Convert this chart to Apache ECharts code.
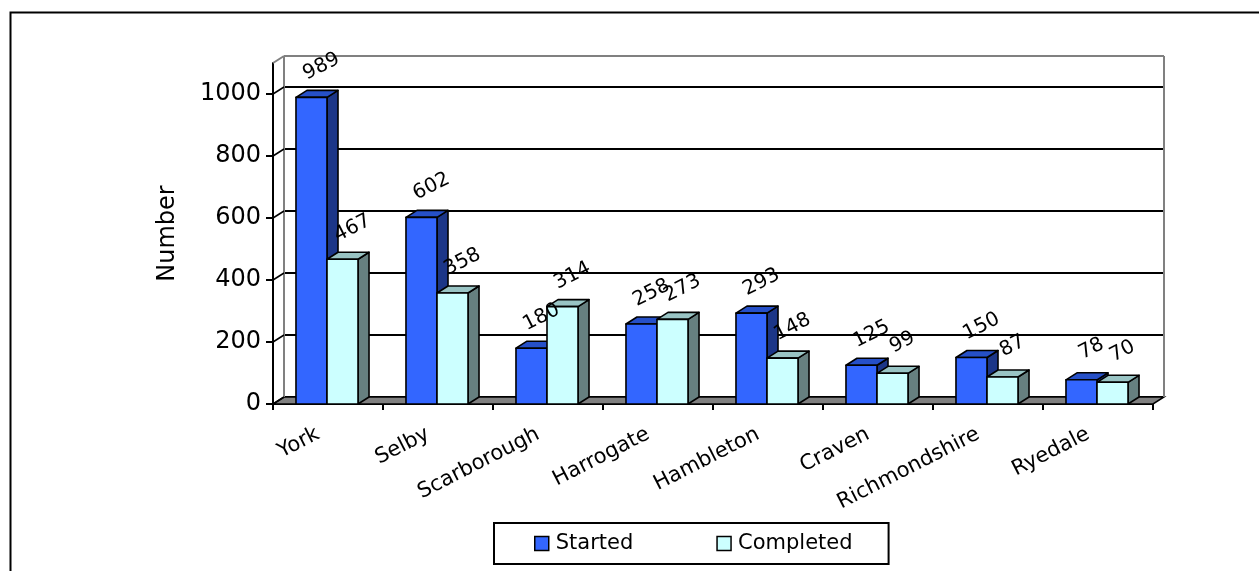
<!DOCTYPE html>
<html>
<head>
<meta charset="utf-8">
<script src="https://cdn.jsdelivr.net/npm/echarts@6/dist/echarts.min.js"></script>
<style>
html, body { margin: 0; padding: 0; background: #fff; }
#main { width: 1259px; height: 571px; }
</style>
</head>
<body>
<div id="main"></div>
<script>
var categories = ['York', 'Selby', 'Scarborough', 'Harrogate', 'Hambleton', 'Craven', 'Richmondshire', 'Ryedale'];
var started = [989, 602, 180, 258, 293, 125, 150, 78];
var completed = [467, 358, 314, 273, 148, 99, 87, 70];
var yTicks = [0, 200, 400, 600, 800, 1000];
var yMax = 1100;

// depth offset of the fake 3d
var DX = 11, DY = -7;
var FONT = 'DejaVu Sans';

function pairs(arr) {
    return arr.map(function (v, i) { return [i, v]; });
}

// draws one 3d box: front, top, side + rotated value label
function boxRenderer(side, front, top, right) {
    return function (params, api) {
        var idx = api.value(0), v = api.value(1);
        var b = api.coord([idx, 0]);
        var t = api.coord([idx, v]);
        var bw = api.size([1, 0])[0] * 0.282;
        var x0 = side === 0 ? b[0] - bw - 1 : b[0] - 1;
        var x1 = x0 + bw;
        var ty = t[1], by = b[1];
        var stroke = { stroke: '#000', lineWidth: 1.6, lineJoin: 'round' };
        return {
            type: 'group',
            children: [
                {
                    type: 'polygon',
                    shape: { points: [[x1, ty], [x1 + DX, ty + DY], [x1 + DX, by + DY], [x1, by]] },
                    style: Object.assign({ fill: right }, stroke)
                },
                {
                    type: 'polygon',
                    shape: { points: [[x0, ty], [x1, ty], [x1 + DX, ty + DY], [x0 + DX, ty + DY]] },
                    style: Object.assign({ fill: top }, stroke)
                },
                {
                    type: 'rect',
                    shape: { x: x0, y: ty, width: bw, height: by - ty },
                    style: Object.assign({ fill: front }, stroke)
                },
                {
                    type: 'text',
                    x: x0 + bw / 2 + 10,
                    y: ty - 31,
                    rotation: 27 * Math.PI / 180,
                    z2: 100,
                    style: {
                        text: String(v),
                        font: '20px ' + FONT,
                        fill: '#000',
                        align: 'center',
                        verticalAlign: 'middle'
                    }
                }
            ]
        };
    };
}

// floor, back wall edges and the left wall tick diagonals
function frameRenderer(params, api) {
    var cs = params.coordSys;
    var L = cs.x, R = cs.x + cs.width, B = cs.y + cs.height;
    var T = api.coord([0, yMax])[1];
    var gray = { stroke: '#808080', lineWidth: 2 };
    var kids = [
        {
            type: 'polygon',
            shape: { points: [[L, B], [R, B], [R + DX, B + DY], [L + DX, B + DY]] },
            style: { fill: '#808080', stroke: '#000', lineWidth: 1.5 }
        },
        { type: 'line', shape: { x1: L + DX, y1: T + DY, x2: R + DX, y2: T + DY }, style: gray },
        { type: 'line', shape: { x1: L + DX, y1: T + DY, x2: L + DX, y2: B + DY }, style: gray },
        { type: 'line', shape: { x1: R + DX, y1: T + DY, x2: R + DX, y2: B + DY }, style: gray },
        { type: 'line', shape: { x1: L, y1: T, x2: L + DX, y2: T + DY }, style: gray }
    ];
    yTicks.forEach(function (tv) {
        var y = api.coord([0, tv])[1];
        kids.push({ type: 'line', shape: { x1: L - 7, y1: y, x2: L, y2: y }, style: { stroke: '#000', lineWidth: 2 } });
        kids.push({ type: 'line', shape: { x1: L, y1: y, x2: L + DX, y2: y + DY }, style: { stroke: '#000', lineWidth: 1.5 } });
    });
    return { type: 'group', children: kids };
}

var option = {
    backgroundColor: '#fff',
    animation: false,
    textStyle: { fontFamily: FONT },
    graphic: [{
        type: 'rect',
        left: 8, top: 10,
        shape: { width: 1300, height: 620 },
        style: { fill: 'none', stroke: '#000', lineWidth: 2 },
        silent: true
    }],
    legend: {
        data: ['Started', 'Completed'],
        left: 494,
        top: 523,
        padding: [10, 36, 10, 40],
        itemGap: 83,
        itemWidth: 14,
        itemHeight: 14,
        icon: 'rect',
        borderColor: '#000',
        borderWidth: 2,
        borderRadius: 0,
        itemStyle: { borderColor: '#000', borderWidth: 1.5 },
        textStyle: { fontSize: 21, color: '#000', fontFamily: FONT, padding: [0, 0, 0, 2] }
    },
    grid: [
        { left: 273, top: 63, width: 880, height: 341 },
        { left: 284, top: 56, width: 880, height: 341 }
    ],
    xAxis: [
        {
            type: 'category',
            gridIndex: 0,
            data: categories,
            axisLine: { lineStyle: { color: '#000', width: 2 } },
            axisTick: { show: true, interval: 0, length: 6, lineStyle: { color: '#000', width: 2 } },
            axisLabel: {
                interval: 0, rotate: 27, margin: 24,
                padding: [0, 11, 0, 0],
                fontSize: 21, color: '#000', fontFamily: FONT
            }
        },
        {
            type: 'category',
            gridIndex: 1,
            data: categories,
            show: false
        }
    ],
    yAxis: [
        {
            type: 'value',
            gridIndex: 0,
            min: 0,
            max: yMax,
            interval: 200,
            name: 'Number',
            nameLocation: 'middle',
            nameGap: 93,
            nameTextStyle: { fontSize: 24, color: '#000', fontFamily: FONT },
            axisLine: { show: true, lineStyle: { color: '#000', width: 2 } },
            axisTick: { show: false },
            splitLine: { show: false },
            axisLabel: {
                showMaxLabel: false,
                margin: 12,
                fontSize: 24,
                color: '#000',
                fontFamily: FONT,
                formatter: function (v) { return v > 1000 ? '' : v; }
            }
        },
        {
            type: 'value',
            gridIndex: 1,
            min: 0,
            max: yMax,
            interval: 200,
            axisLine: { show: false },
            axisTick: { show: false },
            axisLabel: { show: false },
            splitLine: { show: true, lineStyle: { color: '#000', width: 2 } }
        }
    ],
    series: [
        {
            name: 'frame',
            type: 'custom',
            xAxisIndex: 0,
            yAxisIndex: 0,
            silent: true,
            renderItem: frameRenderer,
            data: [[0, 0]]
        },
        {
            name: 'Started',
            type: 'custom',
            xAxisIndex: 0,
            yAxisIndex: 0,
            itemStyle: { color: '#3366FF' },
            renderItem: boxRenderer(0, '#3366FF', '#2650C8', '#1C3688'),
            data: pairs(started)
        },
        {
            name: 'Completed',
            type: 'custom',
            xAxisIndex: 0,
            yAxisIndex: 0,
            itemStyle: { color: '#CCFFFF' },
            renderItem: boxRenderer(1, '#CCFFFF', '#99C4C4', '#668080'),
            data: pairs(completed)
        }
    ]
};

var chart = echarts.init(document.getElementById('main'));
chart.setOption(option);
</script>
</body>
</html>
